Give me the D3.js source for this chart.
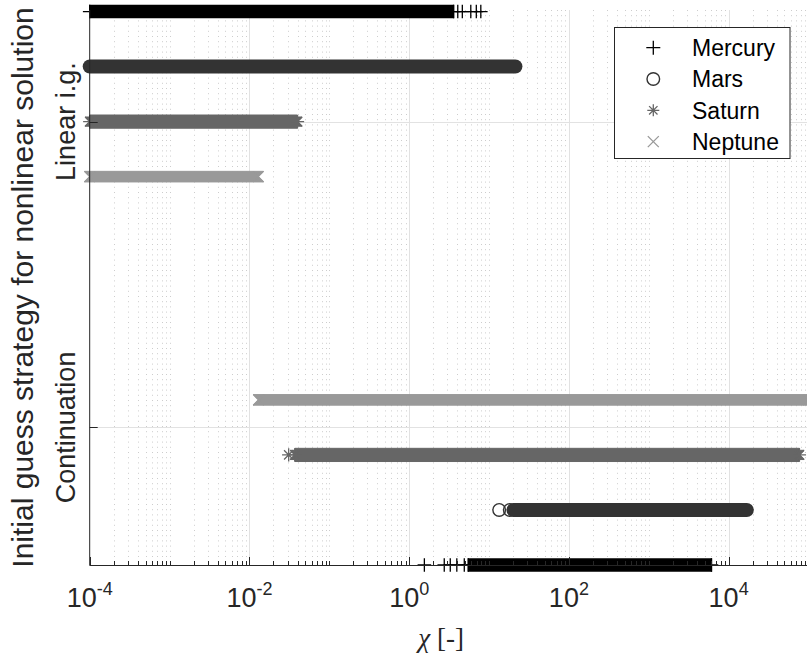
<!DOCTYPE html>
<html>
<head>
<meta charset="utf-8">
<script src="https://cdn.jsdelivr.net/npm/d3@7"></script>
<style>
  html, body { margin: 0; padding: 0; background: #fff; }
  svg { display: block; }
</style>
</head>
<body>
<svg id="chart" width="807" height="655"></svg>
<script>
// planets (legend order) and the two strategies on the y axis
const planets = ["Mercury", "Mars", "Saturn", "Neptune"]
const strategies = ["Linear i.g.", "Continuation"]
const strategyValues = [1, 2]

// y value of each planet row, per strategy
const rowsLinear = [0.64, 0.82, 1.0, 1.18]
const rowsContinuation = [2.45, 2.27, 2.09, 1.91]

// chi range covered by dense markers [from, to], per planet
const runsLinear = [[1e-4, 3.6], [1e-4, 21.4], [1e-4, 0.04], [1e-4, 0.0129]]
const runsContinuation = [[5.5, 6100], [20.2, 16900], [0.037, 77000], [0.013, 1e5]]

// isolated chi values outside the dense ranges
const pointsLinear = [[4.06, 4.63, 5.91, 6.93, 7.89], [], [], []]
const pointsContinuation = [[1.55, 2.75, 3.27, 3.95, 4.9], [13.4, 18.2], [0.031], []]

// x axis
const xDomain = [1e-4, 1e5]
const xTickExponents = [-4, -2, 0, 2, 4]

// marker look per planet
const style = {
  Mercury: { shape: "plus", color: "#000000", h: 6.8 },
  Mars: { shape: "circle", color: "#333333", h: 7 },
  Saturn: { shape: "star", color: "#666666", h: 6.6 },
  Neptune: { shape: "cross", color: "#999999", h: 5.3 },
}

const svg = d3.select("#chart")
const margin = { top: 10, left: 89.7 }
const plotRight = 808.5
const plotBottom = 565
const axisColor = "#262626"

const x = d3.scaleLog().domain(xDomain).range([margin.left, plotRight])
const y = d3.scaleLinear().domain([0.635, 2.45]).range([margin.top, plotBottom])

// ---- grid
const minorVals = []
const majorVals = []
for (let e = -4; e <= 4; e++) {
  for (let k = 1; k <= 9; k++) {
    const v = k * Math.pow(10, e)
    if (k === 1 && xTickExponents.includes(e)) majorVals.push(v)
    else minorVals.push(v)
  }
}

const grid = svg.append("g")
grid.selectAll(".minor")
  .data(minorVals)
  .enter()
  .append("line")
  .attr("x1", (d) => Math.round(x(d)) + 0.5)
  .attr("x2", (d) => Math.round(x(d)) + 0.5)
  .attr("y1", margin.top)
  .attr("y2", plotBottom)
  .attr("stroke", "#cdcdcd")
  .attr("stroke-width", 1)
  .attr("stroke-dasharray", "1 4.2")

grid.selectAll(".major")
  .data(majorVals.slice(1))
  .enter()
  .append("line")
  .attr("x1", (d) => Math.round(x(d)) + 0.5)
  .attr("x2", (d) => Math.round(x(d)) + 0.5)
  .attr("y1", margin.top)
  .attr("y2", plotBottom)
  .attr("stroke", "#e2e2e2")
  .attr("stroke-width", 1)

grid.selectAll(".hmajor")
  .data(strategyValues)
  .enter()
  .append("line")
  .attr("x1", margin.left)
  .attr("x2", plotRight)
  .attr("y1", (d) => Math.round(y(d)) + 0.5)
  .attr("y2", (d) => Math.round(y(d)) + 0.5)
  .attr("stroke", "#e2e2e2")
  .attr("stroke-width", 1)

// ---- marker shapes
function markerPath(shape, h) {
  const a = h * 0.7
  if (shape === "plus") return `M${-h},0H${h}M0,${-h}V${h}`
  if (shape === "cross") return `M${-h},${-h}L${h},${h}M${-h},${h}L${h},${-h}`
  if (shape === "star") return `M${-h},0H${h}M0,${-h}V${h}M${-a},${-a}L${a},${a}M${-a},${a}L${a},${-a}`
  return null
}

function drawMarker(g, shape, color, h, cx, cy) {
  if (shape === "circle") {
    g.append("circle")
      .attr("cx", cx).attr("cy", cy).attr("r", h - 0.7)
      .attr("fill", "none").attr("stroke", color).attr("stroke-width", 1.4)
  } else {
    g.append("path")
      .attr("transform", `translate(${cx},${cy})`)
      .attr("d", markerPath(shape, h))
      .attr("fill", "none").attr("stroke", color).attr("stroke-width", 1.3)
  }
}

// dense run of markers drawn as the outline they merge into
function drawRun(g, shape, color, h, run, cy) {
  const xs = x(run[0])
  const xe = x(run[1])
  const a = h * 0.7
  if (shape === "circle") {
    g.append("line")
      .attr("x1", xs).attr("x2", xe).attr("y1", cy).attr("y2", cy)
      .attr("stroke", color).attr("stroke-width", 2 * h)
      .attr("stroke-linecap", "round")
    return
  }
  let pts
  if (shape === "plus") {
    pts = [[xs - 0.6, cy - h], [xe + 0.6, cy - h], [xe + 0.6, cy + h], [xs - 0.6, cy + h]]
  } else if (shape === "cross") {
    pts = [[xs - h, cy - h], [xe + h, cy - h], [xe, cy], [xe + h, cy + h], [xs - h, cy + h], [xs, cy]]
  } else {
    pts = [[xs, cy - h], [xe, cy - h], [xe, cy - a], [xe + a, cy - a], [xe, cy], [xe + a, cy + a],
      [xe, cy + a], [xe, cy + h], [xs, cy + h], [xs, cy + a], [xs - a, cy + a], [xs, cy],
      [xs - a, cy - a], [xs, cy - a]]
  }
  g.append("polygon")
    .attr("points", pts.map((p) => p.join(",")).join(" "))
    .attr("fill", color)
    .attr("stroke", color)
    .attr("stroke-width", shape === "plus" ? 0 : 1)
  drawMarker(g, shape, color, h, xs, cy)
  drawMarker(g, shape, color, h, xe, cy)
}

const marks = svg.append("g")
const series = []
planets.forEach((p, j) => {
  series.push({ planet: p, y: rowsLinear[j], run: runsLinear[j], points: pointsLinear[j] })
  series.push({ planet: p, y: rowsContinuation[j], run: runsContinuation[j], points: pointsContinuation[j] })
})

series.forEach((s) => {
  const st = style[s.planet]
  const g = marks.append("g")
  s.points.forEach((v) => drawMarker(g, st.shape, st.color, st.h, x(v), y(s.y)))
  drawRun(g, st.shape, st.color, st.h, s.run, y(s.y))
})

// ---- axes
const axes = svg.append("g").attr("stroke", axisColor).attr("fill", "none")
axes.append("line")
  .attr("x1", margin.left).attr("x2", margin.left)
  .attr("y1", margin.top).attr("y2", plotBottom + 0.5)
axes.append("line")
  .attr("x1", margin.left).attr("x2", plotRight)
  .attr("y1", plotBottom + 0.5).attr("y2", plotBottom + 0.5)

axes.selectAll(".xminor")
  .data(minorVals)
  .enter()
  .append("line")
  .attr("x1", (d) => Math.round(x(d)) + 0.5)
  .attr("x2", (d) => Math.round(x(d)) + 0.5)
  .attr("y1", plotBottom)
  .attr("y2", plotBottom - 4)

axes.selectAll(".xmajor")
  .data(majorVals)
  .enter()
  .append("line")
  .attr("x1", (d) => Math.round(x(d)) + 0.5)
  .attr("x2", (d) => Math.round(x(d)) + 0.5)
  .attr("y1", plotBottom)
  .attr("y2", plotBottom - 8)

axes.selectAll(".ytick")
  .data(strategyValues)
  .enter()
  .append("line")
  .attr("x1", margin.left)
  .attr("x2", margin.left + 8)
  .attr("y1", (d) => Math.round(y(d)) + 0.5)
  .attr("y2", (d) => Math.round(y(d)) + 0.5)

// x tick labels 10^n
const xt = svg.append("g")
  .attr("font-family", "'Liberation Sans', Arial, sans-serif")
  .attr("fill", axisColor)
xTickExponents.forEach((e) => {
  const t = xt.append("text")
    .attr("x", x(Math.pow(10, e)))
    .attr("y", 607)
    .attr("text-anchor", "middle")
    .attr("font-size", 27)
  t.append("tspan").text("10")
  t.append("tspan").attr("font-size", 18).attr("dy", -12).text(String(e))
})

// y tick labels
strategies.forEach((s, i) => {
  svg.append("text")
    .attr("transform", `translate(75,${y(strategyValues[i])}) rotate(-90)`)
    .attr("text-anchor", "middle")
    .attr("font-family", "'Liberation Sans', Arial, sans-serif")
    .attr("font-size", 27)
    .attr("fill", axisColor)
    .text(s)
})

// axis titles
svg.append("text")
  .attr("transform", `translate(33,${(margin.top + plotBottom) / 2}) rotate(-90)`)
  .attr("text-anchor", "middle")
  .attr("font-family", "'Liberation Sans', Arial, sans-serif")
  .attr("font-size", 30)
  .attr("fill", axisColor)
  .text("Initial guess strategy for nonlinear solution")

const xl = svg.append("text")
  .attr("x", (margin.left + plotRight) / 2 - 8)
  .attr("y", 647)
  .attr("text-anchor", "middle")
  .attr("font-family", "'Liberation Serif', 'Times New Roman', serif")
  .attr("font-size", 27)
  .attr("fill", axisColor)
xl.append("tspan").attr("font-style", "italic").text("χ")
xl.append("tspan").text(" [-]")

// ---- legend
const legend = svg.append("g")
legend.append("rect")
  .attr("x", 614.5).attr("y", 27.5)
  .attr("width", 175.5).attr("height", 131)
  .attr("fill", "#fff").attr("stroke", axisColor).attr("stroke-width", 1)

planets.forEach((p, i) => {
  const st = style[p]
  const cy = 47.7 + i * 31.3
  const lh = { plus: 7, circle: 7, star: 6, cross: 5.5 }[st.shape]
  drawMarker(legend, st.shape, st.color, lh, 653.3, cy)
  legend.append("text")
    .attr("x", 692)
    .attr("y", cy)
    .attr("dy", "0.36em")
    .attr("font-family", "'Liberation Sans', Arial, sans-serif")
    .attr("font-size", 23)
    .attr("fill", "#000")
    .text(p)
})
</script>
</body>
</html>
